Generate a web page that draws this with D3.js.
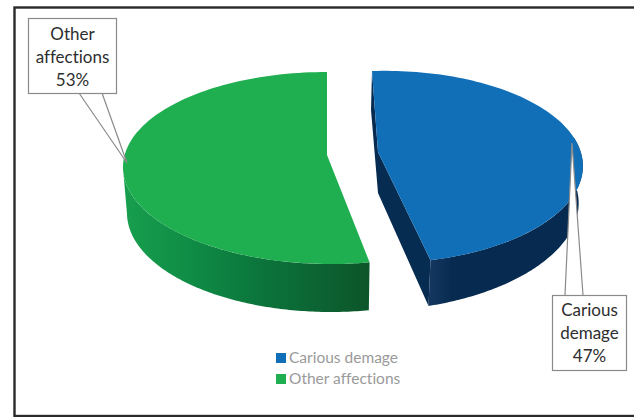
<!DOCTYPE html>
<html><head><meta charset="utf-8">
<script src="https://cdn.jsdelivr.net/npm/d3@7"></script>
<style>html,body{margin:0;padding:0;background:#fff;overflow:hidden}svg{display:block}text{font-variant-ligatures:none}</style>
</head><body><div id="c"></div>
<script>
const categories = ["Carious demage", "Other affections"];
const values = [47, 53];
const percentLabels = ["47%", "53%"];
const topColors = ["#116fb8", "#1fae50"];

const W = 634, H = 417;
const svg = d3.select("#c").append("svg").attr("width", W).attr("height", H);
const defs = svg.append("defs");

// projection of each slice: x = cx + a sin t + b cos t, y = cy + c sin t + d cos t
const proj = [
  { top: {cx:382.6, a:200, b:-10.6, cy:167, c:-6, d:-96}, bot: {cx:381.4, a:197, b:-10.4, cy:210, c:-12, d:-100},
    apexTop:[378,152], apexBot:[378,193] },
  { top: {cx:329, a:206, b:-2, cy:168, c:0, d:-96}, bot: {cx:329, a:202, b:-2, cy:214, c:0, d:-98},
    apexTop:[327,155], apexBot:[327,195] }
];
const pt = (p, t) => [p.cx + p.a*Math.sin(t) + p.b*Math.cos(t), p.cy + p.c*Math.sin(t) + p.d*Math.cos(t)];
const arcs = d3.pie().sort(null)(values);
const line = d3.line();
const rim = (p, t0, t1) => d3.range(0, 121).map(i => pt(p, t0 + (t1-t0)*i/120));

// Frame (its right edge lies beyond the picture)
svg.append("rect").attr("x",14.5).attr("y",7.5).attr("width",640).attr("height",408.5)
  .attr("fill","#fff").attr("stroke","#2a2a2a").attr("stroke-width",2.4);

// Gradients for outer walls
const gradStops = [
  [[0,"#12365f"],[0.15,"#072b50"],[1,"#072b50"]],
  [[0,"#179f4e"],[0.3,"#0f8a45"],[0.55,"#0b753b"],[0.8,"#0c6333"],[1,"#0c5529"]]
];
const gradX = [[431,570],[123,370]];
arcs.forEach((d,i)=>{
  const g = defs.append("linearGradient").attr("id","w"+i).attr("gradientUnits","userSpaceOnUse")
    .attr("x1",gradX[i][0]).attr("x2",gradX[i][1]).attr("y1",0).attr("y2",0);
  gradStops[i].forEach(s=>g.append("stop").attr("offset",s[0]).attr("stop-color",s[1]));
});

const drawSlice = (d,i) => {
  const p = proj[i];
  const g = svg.append("g");
  if (i === 0) {
    const tEnd = d.endAngle;
    g.append("path").attr("fill","#072c52").attr("d", line([
      pt(p.top,d.startAngle), pt(p.bot,d.startAngle), p.apexBot, pt(p.bot,tEnd), pt(p.top,tEnd), p.apexTop
    ])+"Z");
    const t0 = Math.PI*0.42;
    g.append("path").attr("fill","url(#w0)").attr("d", line(
      rim(p.top,t0,tEnd).concat(rim(p.bot,tEnd,t0)))+"Z");
  } else {
    const t1 = Math.PI*1.5;
    g.append("path").attr("fill","url(#w1)").attr("d", line(
      rim(p.top,d.startAngle,t1).concat(rim(p.bot,t1,d.startAngle)))+"Z");
  }
  g.append("path").attr("fill",topColors[i]).attr("d", line(
    [p.apexTop].concat(rim(p.top,d.startAngle,d.endAngle)))+"Z");
};
arcs.forEach(drawSlice);

// Callouts
const callouts = [
  { i:1, box:[28,18,88,75], base:22, poly:[[79,93],[127,163],[102,93]] },
  { i:0, box:[552,295,74,75], base:21, poly:[[565,295],[572,143],[583,295]] }
];
callouts.forEach(c=>{
  const [x,y,w,h] = c.box;
  const lines = [...categories[c.i].split(" "), percentLabels[c.i]];
  svg.append("path").attr("fill","#fff").attr("stroke","#8a8a8a").attr("stroke-width",1.2)
    .attr("d", line(c.poly));
  svg.append("rect").attr("x",x+.5).attr("y",y+.5).attr("width",w).attr("height",h)
    .attr("fill","#fff").attr("stroke","#8a8a8a").attr("stroke-width",1.2);
  lines.forEach((t,k)=>svg.append("text").attr("x",x+w/2+.5).attr("y",y+c.base+k*23.2)
    .attr("text-anchor","middle").attr("font-family","Lato").attr("font-size",17).attr("fill","#2e2e2e").text(t));
});

// Legend
categories.forEach((c,i)=>{
  const y = 353 + i*21;
  svg.append("rect").attr("x",276).attr("y",y).attr("width",10).attr("height",10).attr("fill",topColors[i]);
  svg.append("text").attr("x",289).attr("y",y+10).attr("font-family","Lato").attr("font-size",15.5).attr("fill","#9a9a9a").text(c);
});
</script></body></html>
